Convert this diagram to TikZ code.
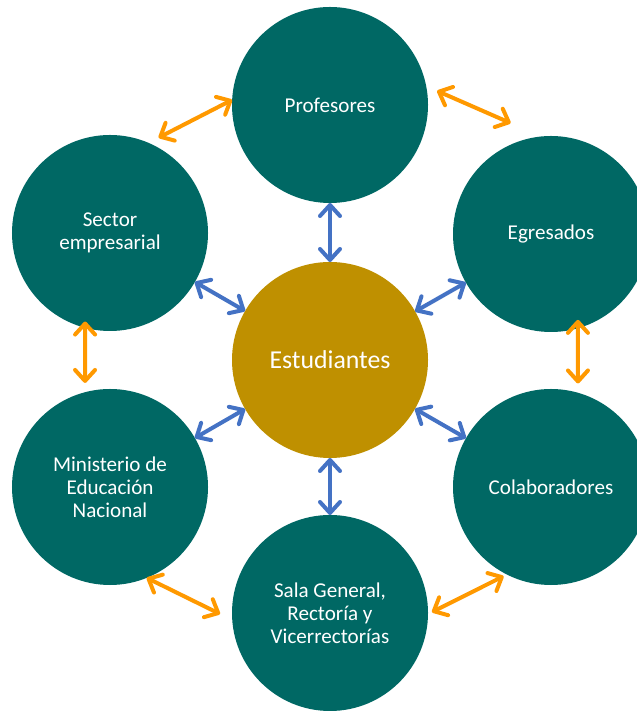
\documentclass[tikz,border=0pt]{standalone}
\usepackage{fontspec}
\setmainfont{Carlito}
\usetikzlibrary{arrows.meta}
\definecolor{tealc}{RGB}{0,104,100}
\definecolor{goldc}{RGB}{191,144,0}
\definecolor{bluec}{RGB}{68,114,196}
\definecolor{orangec}{RGB}{255,153,0}
\tikzset{
  actor/.style={circle,fill=tealc,minimum size=5.88cm,inner sep=0pt,outer sep=0pt,
    text=white,align=center,font=\fontsize{18}{19.6}\selectfont},
  barb/.tip={Straight Barb[length=0.33cm,width=0.6cm,round]},
  bluearrow/.style={draw=bluec,line width=0.12cm,barb-barb},
  orangearrow/.style={draw=orangec,line width=0.12cm,barb-barb}
}
\begin{document}
\begin{tikzpicture}[x=0.03cm,y=0.03cm]
  \useasboundingbox (0,0) rectangle (636,711);
  \node[actor,fill=goldc,font=\fontsize{22}{26}\selectfont] (est) at (330,351) {Estudiantes};
  \node[actor] (prof) at (330,606) {Profesores};
  \node[actor] (egr) at (551,477) {Egresados};
  \node[actor] (colab) at (551,224) {Colaboradores};
  \node[actor] (sala) at (330,98) {Sala General,\\Rectoría y\\Vicerrectorías};
  \node[actor] (minis) at (110,224) {Ministerio de\\Educación\\Nacional};
  \node[actor] (sector) at (110,478) {Sector\\empresarial};
  % estudiantes <-> each group
  \foreach \n in {prof,egr,colab,sala,minis,sector}
    \draw[bluearrow] (est) -- (\n);
  % groups around the ring
  \draw[orangearrow] ([shift={(63:107)}]sector.center) -- ([shift={(177:98)}]prof.center);
  \draw[orangearrow] ([shift={(7.5:108)}]prof.center) -- ([shift={(110:118)}]egr.center);
  \draw[orangearrow] ([shift={(-72.6:90)}]egr.center) -- ([shift={(75.4:107)}]colab.center);
  \draw[orangearrow] ([shift={(-105.7:92)}]sector.center) -- ([shift={(103.5:107)}]minis.center);
  \draw[orangearrow] ([shift={(-68:98)}]minis.center) -- ([shift={(180.5:110)}]sala.center);
  \draw[orangearrow] ([shift={(0.5:102)}]sala.center) -- ([shift={(-118:101)}]colab.center);
\end{tikzpicture}
\end{document}
